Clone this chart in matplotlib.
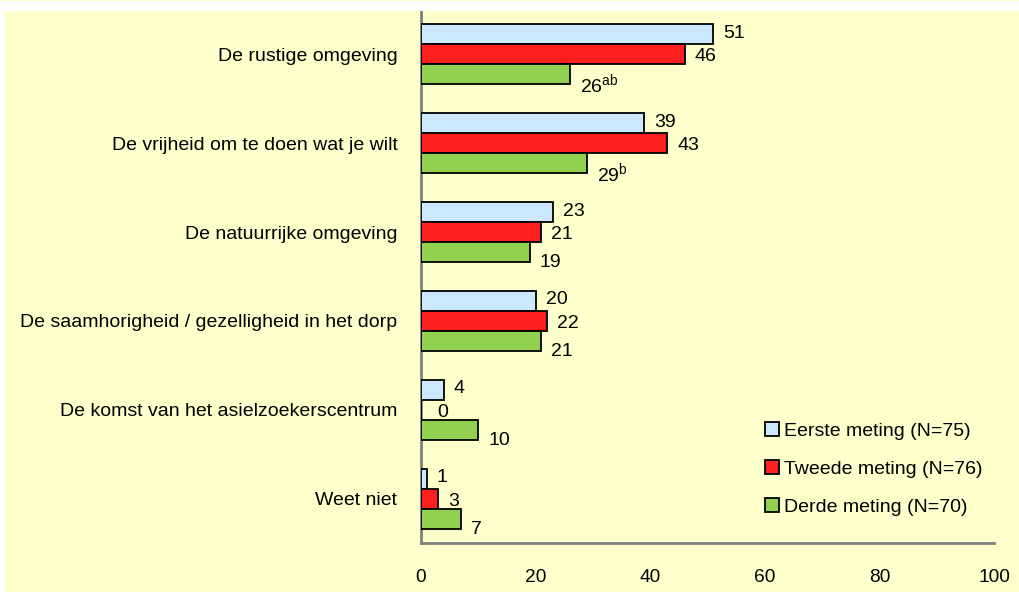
import matplotlib
matplotlib.use("Agg")
import matplotlib.pyplot as plt
from matplotlib.patches import Rectangle
import numpy as np

plt.rcParams['font.family'] = ['Liberation Sans', 'DejaVu Sans']

categories = ["De rustige omgeving",
              "De vrijheid om te doen wat je wilt",
              "De natuurrijke omgeving",
              "De saamhorigheid / gezelligheid in het dorp",
              "De komst van het asielzoekerscentrum",
              "Weet niet"]
series_names = ["Eerste meting (N=75)", "Tweede meting (N=76)", "Derde meting (N=70)"]
eerste = [51, 39, 23, 20, 4, 1]
tweede = [46, 43, 21, 22, 0, 3]
derde = [26, 29, 19, 21, 10, 7]
superscripts_derde = ["ab", "b", "", "", "", ""]
x_ticks = [0, 20, 40, 60, 80, 100]

colors = ["#CCE8FF", "#FF1F1F", "#92D050"]
W, H = 1019, 592
fig = plt.figure(figsize=(W / 100, H / 100), dpi=100)
fig.patch.set_facecolor("#FFFFCC")
# white border strips
fig.patches.append(Rectangle((0, 1 - 11 / H), 1, 10 / H, transform=fig.transFigure,
                             facecolor="white", edgecolor="none", zorder=0))
fig.patches.append(Rectangle((0, 0), 5 / W, 1 - 1 / H, transform=fig.transFigure,
                             facecolor="white", edgecolor="none", zorder=0))

ax = fig.add_axes([421 / W, 1 - 543 / H, 573 / W, 533 / H])
ax.set_facecolor("none")

n = len(categories)
y = np.arange(n)
bh = 0.225
series = [eerste, tweede, derde]
offsets = [-bh, 0, bh]
label_dy = [1, -2.5, -10.5]
for s, (vals, off, col, name, dy) in enumerate(zip(series, offsets, colors, series_names, label_dy)):
    ax.barh(y + off, vals, height=bh, color=col, edgecolor="black", linewidth=1.3,
            label=name, zorder=3)
    for i, v in enumerate(vals):
        txt = str(v)
        if s == 2 and superscripts_derde[i]:
            txt = txt + r"$^{\mathregular{" + superscripts_derde[i] + "}}$"
        dx = 10 if v > 0 else 16
        ax.annotate(txt, (v, y[i] + off), xytext=(dx, dy), textcoords="offset pixels",
                    ha="left", va="center", fontsize=14, color="black", zorder=4)

ax.set_ylim(n - 0.5, -0.5)
ax.set_xlim(0, 100)
ax.set_yticks(y)
ax.set_yticklabels(categories, fontsize=14.0)
ax.set_xticks(x_ticks)
ax.tick_params(axis="both", length=0, colors="black")
ax.tick_params(axis="x", labelsize=13.8, pad=19)
ax.tick_params(axis="y", pad=17)
for sp in ["top", "right"]:
    ax.spines[sp].set_visible(False)
for sp in ["left", "bottom"]:
    ax.spines[sp].set_color("#808080")
    ax.spines[sp].set_linewidth(2)

leg = fig.legend(*ax.get_legend_handles_labels(), loc="center left",
                 bbox_to_anchor=(765 / W, 1 - 469 / H), frameon=False,
                 fontsize=14, handlelength=0.7, handleheight=0.7, handletextpad=0.27,
                 labelspacing=1.04, borderpad=0, borderaxespad=0)
for h in leg.legend_handles:
    h.set_linewidth(1.3)

fig.savefig("out.png", dpi=100, facecolor=fig.get_facecolor())
